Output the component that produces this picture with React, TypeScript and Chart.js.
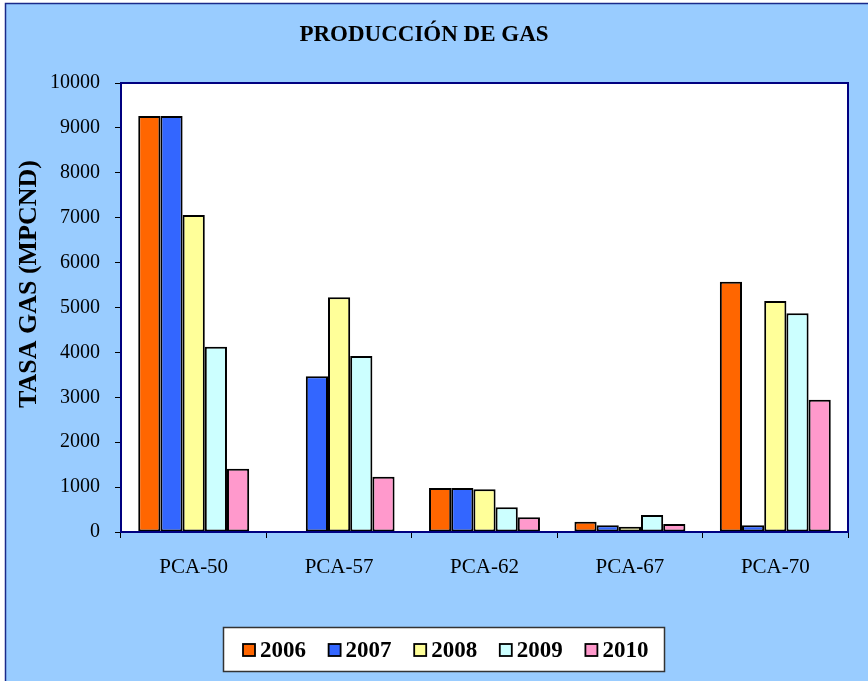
import React, { useEffect, useRef } from "react";
import { Chart, registerables } from "chart.js";

Chart.register(...registerables);

const categories = ["PCA-50", "PCA-57", "PCA-62", "PCA-67", "PCA-70"];
const seriesLabels = ["2006", "2007", "2008", "2009", "2010"];
const s2006 = [9265, null, 980, 230, 5575];
const s2007 = [9265, 3468, 980, 150, 150];
const s2008 = [7060, 5227, 951, 118, 5145];
const s2009 = [4127, 3920, 550, 379, 4870];
const s2010 = [1410, 1232, 327, 178, 2947];
const seriesColors = ["#FF6600", "#3366FF", "#FFFF99", "#CCFFFF", "#FF99CC"];
const yMin = 0;
const yMax = 10000;
const yStep = 1000;
const yTitle = "TASA GAS (MPCND)";

const SERIF = "'Liberation Serif', 'Times New Roman', serif";

const backgroundPlugin = {
  id: "bgPlugin",
  beforeDraw(chart: any) {
    const { ctx, width, height, chartArea } = chart;
    ctx.save();
    ctx.fillStyle = "#ffffff";
    ctx.fillRect(0, 0, width, height);
    ctx.fillStyle = "#99CCFF";
    ctx.fillRect(5, 3, width - 5, height - 3);
    ctx.strokeStyle = "#1A2A8A";
    ctx.lineWidth = 1.5;
    ctx.strokeRect(5.5, 3.5, width + 10, height + 10);
    ctx.fillStyle = "#ffffff";
    ctx.fillRect(chartArea.left, chartArea.top, chartArea.right - chartArea.left, chartArea.bottom - chartArea.top);
    ctx.restore();
  },
  afterDatasetsDraw(chart: any) {
    const { ctx, chartArea } = chart;
    ctx.save();
    ctx.strokeStyle = "#000080";
    ctx.lineWidth = 2;
    ctx.beginPath();
    ctx.moveTo(chartArea.left, chartArea.bottom);
    ctx.lineTo(chartArea.left, chartArea.top);
    ctx.lineTo(chartArea.right, chartArea.top);
    ctx.lineTo(chartArea.right, chartArea.bottom);
    ctx.lineTo(chartArea.left, chartArea.bottom);
    ctx.stroke();
    ctx.restore();
  },
  afterDraw(chart: any) {
    const { ctx } = chart;
    // y-axis title
    ctx.save();
    ctx.translate(29, 284);
    ctx.rotate(-Math.PI / 2);
    ctx.font = `bold 26px ${SERIF}`;
    ctx.fillStyle = "#000000";
    ctx.textAlign = "center";
    ctx.textBaseline = "middle";
    ctx.fillText(yTitle, 0, 0);
    ctx.restore();

    // legend
    const boxX = 223;
    const boxY = 627;
    const boxW = 441;
    const boxH = 44;
    ctx.save();
    ctx.fillStyle = "#ffffff";
    ctx.fillRect(boxX, boxY, boxW, boxH);
    ctx.strokeStyle = "#333333";
    ctx.lineWidth = 1.5;
    ctx.strokeRect(boxX + 0.5, boxY + 0.5, boxW, boxH);
    ctx.font = `bold 23px ${SERIF}`;
    ctx.textBaseline = "middle";
    ctx.textAlign = "left";
    const cy = boxY + boxH / 2 + 1;
    chart.data.datasets.forEach((ds: any, i: number) => {
      const x = 243 + i * 85.6;
      ctx.fillStyle = ds.backgroundColor;
      ctx.fillRect(x, cy - 6, 12, 12);
      ctx.strokeStyle = "#000000";
      ctx.lineWidth = 1.8;
      ctx.strokeRect(x, cy - 6, 12, 12);
      ctx.fillStyle = "#000000";
      ctx.fillText(ds.label, x + 17, cy + 1);
    });
    ctx.restore();
  },
};

export default function App() {
  const ref = useRef<HTMLCanvasElement | null>(null);

  useEffect(() => {
    if (!ref.current) return;
    const allSeries = [s2006, s2007, s2008, s2009, s2010];
    const chart = new Chart(ref.current, {
      type: "bar",
      data: {
        labels: categories,
        datasets: allSeries.map((d, i) => ({
          label: seriesLabels[i],
          data: d,
          backgroundColor: seriesColors[i],
          borderColor: "#000000",
          borderWidth: 2,
          borderSkipped: false,
          barPercentage: 1,
          categoryPercentage: 0.763,
        })),
      },
      options: {
        responsive: false,
        animation: false,
        devicePixelRatio: 1,
        layout: { padding: { left: 0, right: 20, top: 0, bottom: 0 } },
        plugins: {
          legend: { display: false },
          tooltip: { enabled: false },
          title: {
            display: true,
            text: "PRODUCCIÓN DE GAS",
            color: "#000000",
            font: { family: SERIF, size: 23, weight: "bold" },
            padding: { top: 21, bottom: 34.4 },
          },
        },
        scales: {
          x: {
            grid: {
              display: true,
              drawOnChartArea: false,
              drawTicks: true,
              tickLength: 6,
              color: "#000000",
              offset: true,
            },
            border: { display: true, color: "#000080", width: 2 },
            ticks: {
              color: "#000000",
              font: { family: SERIF, size: 21 },
              padding: 17,
              maxRotation: 0,
            },
            afterFit(scale: any) {
              scale.height = 149;
            },
          },
          y: {
            min: yMin,
            max: yMax,
            grid: {
              display: true,
              drawOnChartArea: false,
              drawTicks: true,
              tickLength: 6,
              color: "#000000",
            },
            border: { display: true, color: "#000080", width: 2 },
            ticks: {
              stepSize: yStep,
              color: "#000000",
              font: { family: SERIF, size: 20 },
              padding: 15,
              callback: (v: any) => String(v),
            },
            afterFit(scale: any) {
              scale.width = 121;
            },
          },
        },
      },
      plugins: [backgroundPlugin],
    } as any);
    return () => chart.destroy();
  }, []);

  return (
    <div style={{ position: "absolute", left: 0, top: 0, width: 868, height: 681 }}>
      <canvas ref={ref} width={868} height={681} />
    </div>
  );
}
